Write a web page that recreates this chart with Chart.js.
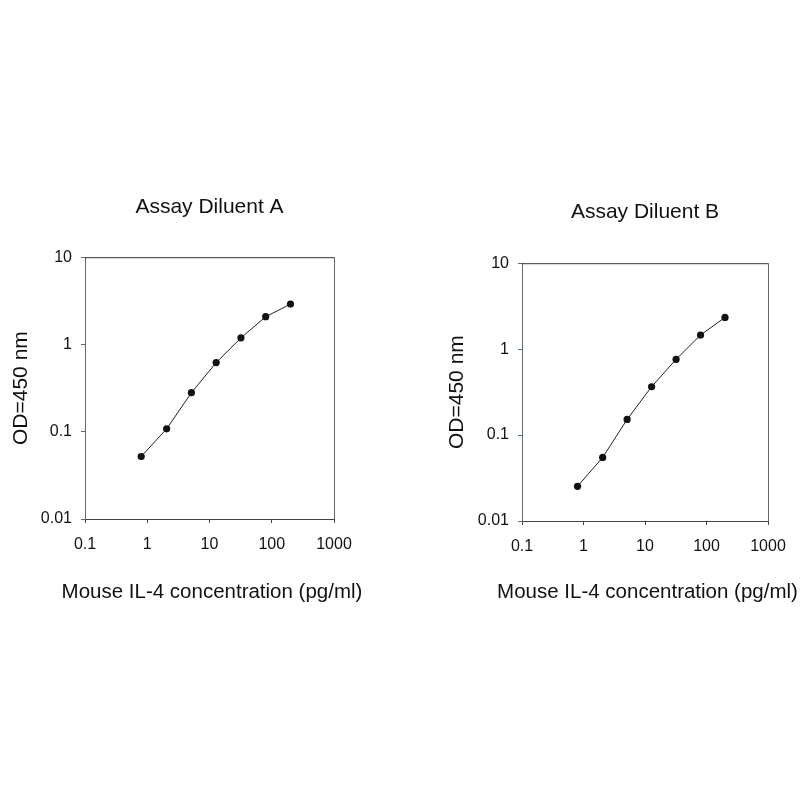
<!DOCTYPE html>
<html>
<head>
<meta charset="utf-8">
<script src="https://cdn.jsdelivr.net/npm/chart.js@4.4.1/dist/chart.umd.min.js"></script>
<style>
  html, body { margin: 0; padding: 0; background: #ffffff; }
  body { width: 800px; height: 800px; position: relative; overflow: hidden; }
  canvas { position: absolute; }
  #chartA { left: 0px; top: 180px; }
  #chartB { left: 420px; top: 180px; }
</style>
</head>
<body>
<canvas id="chartA" width="400" height="440"></canvas>
<canvas id="chartB" width="380" height="440"></canvas>
<script>
// ---- data ----
const concentrations = [0.8, 2.05, 5.12, 12.8, 32, 80, 200];
const odDiluentA = [0.052, 0.108, 0.28, 0.62, 1.19, 2.08, 2.9];
const odDiluentB = [0.0253, 0.055, 0.152, 0.365, 0.76, 1.46, 2.34];
const xTickValues = [0.1, 1, 10, 100, 1000];
const xTickLabels = ['0.1', '1', '10', '100', '1000'];
const yTickValues = [0.01, 0.1, 1, 10];
const yTickLabels = ['0.01', '0.1', '1', '10'];
const titleA = 'Assay Diluent A';
const titleB = 'Assay Diluent B';
const xAxisTitle = 'Mouse IL-4 concentration (pg/ml)';
const yAxisTitle = 'OD=450 nm';

const FONT = "'Liberation Sans', Arial, Helvetica, sans-serif";
const TEXT = '#111111';

const framePlugin = {
  id: 'frame',
  afterDraw(chart) {
    const a = chart.chartArea;
    const ctx = chart.ctx;
    ctx.save();
    ctx.lineWidth = 1;
    ctx.strokeStyle = '#333333';
    ctx.beginPath();
    ctx.moveTo(a.left, a.top + 0.5);
    ctx.lineTo(a.right, a.top + 0.5);
    ctx.stroke();
    ctx.strokeStyle = '#666666';
    ctx.beginPath();
    ctx.moveTo(a.right + 0.5, a.top);
    ctx.lineTo(a.right + 0.5, a.bottom);
    ctx.stroke();
    // x-axis title (drawn without width compression)
    ctx.fillStyle = TEXT;
    ctx.font = "20.5px " + FONT;
    ctx.textAlign = 'center';
    ctx.textBaseline = 'middle';
    ctx.fillText(xAxisTitle, (a.left + a.right) / 2 + 2.5, 412);
    ctx.restore();
  }
};

function makeChart(id, title, values, cfg) {
  const pts = concentrations.map((c, i) => ({ x: c, y: values[i] }));
  return new Chart(document.getElementById(id), {
    type: 'line',
    data: {
      datasets: [{
        data: pts,
        borderColor: '#222222',
        borderWidth: 1,
        backgroundColor: '#111111',
        pointBackgroundColor: '#111111',
        pointBorderWidth: 0,
        pointRadius: 3.6,
        tension: 0,
        fill: false
      }]
    },
    options: {
      responsive: false,
      animation: false,
      layout: { padding: { left: 0, top: 0, right: cfg.padRight, bottom: 0 } },
      plugins: {
        legend: { display: false },
        tooltip: { enabled: false },
        title: {
          display: true,
          text: title,
          fullSize: false,
          color: TEXT,
          font: { family: FONT, size: 21, weight: 'normal', lineHeight: 1.2 },
          padding: { top: cfg.titleTop, bottom: cfg.titleBottom }
        }
      },
      scales: {
        x: {
          type: 'logarithmic',
          position: 'bottom',
          min: 0.1,
          max: 1000,
          afterBuildTicks: (s) => { s.ticks = xTickValues.map(v => ({ value: v })); },
          afterFit: (s) => { s.height = cfg.xHeight; },
          ticks: {
            autoSkip: false,
            maxRotation: 0,
            padding: 12,
            color: TEXT,
            font: { family: FONT, size: 16 },
            callback: (v, i) => xTickLabels[i]
          },
          grid: { drawOnChartArea: false, drawTicks: true, tickLength: 4, color: '#444444', lineWidth: 1 },
          border: { display: true, color: '#444444', width: 1 },
          title: { display: false }
        },
        y: {
          type: 'logarithmic',
          position: 'left',
          min: 0.01,
          max: 10,
          afterBuildTicks: (s) => { s.ticks = yTickValues.map(v => ({ value: v })); },
          afterFit: (s) => { s.width = cfg.yWidth; },
          ticks: {
            autoSkip: false,
            padding: 9,
            color: TEXT,
            font: { family: FONT, size: 16 },
            callback: (v, i) => yTickLabels[i]
          },
          grid: { drawOnChartArea: false, drawTicks: true, tickLength: 4, color: '#5f6b70', lineWidth: 1 },
          border: { display: true, color: '#5f6b70', width: 1 },
          title: {
            display: true,
            text: yAxisTitle,
            color: TEXT,
            font: { family: FONT, size: 21, lineHeight: 1.2 },
            padding: { top: cfg.yTitlePad, bottom: 0 }
          }
        }
      }
    },
    plugins: [framePlugin]
  });
}

makeChart('chartA', titleA, odDiluentA, {
  padRight: 66, titleTop: 15, titleBottom: 37, xHeight: 101, yWidth: 85, yTitlePad: 9
});
makeChart('chartB', titleB, odDiluentB, {
  padRight: 32, titleTop: 20, titleBottom: 38, xHeight: 99, yWidth: 102, yTitlePad: 25
});
</script>
</body>
</html>
